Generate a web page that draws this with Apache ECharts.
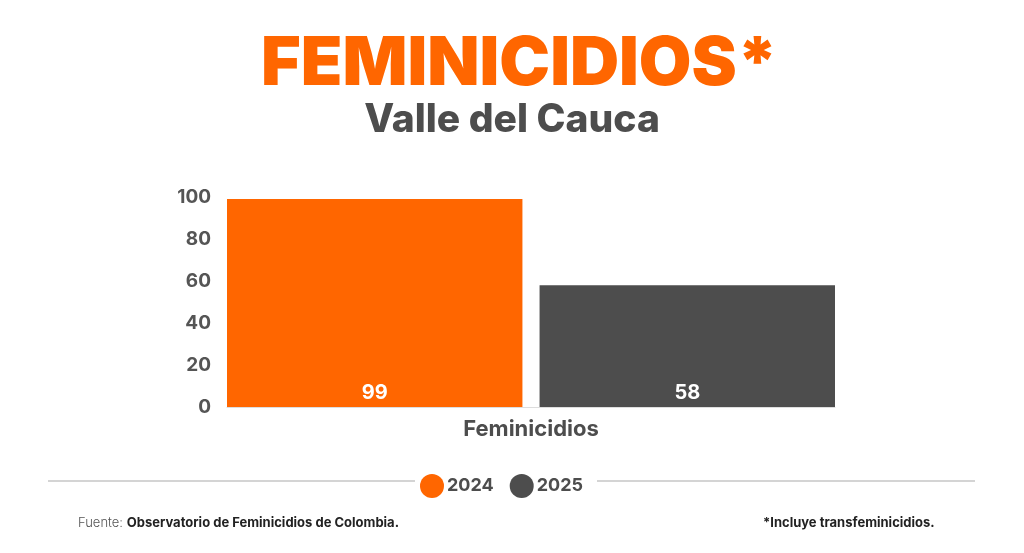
<!DOCTYPE html>
<html><head><meta charset="utf-8">
<script src="https://cdn.jsdelivr.net/npm/echarts@6/dist/echarts.min.js"></script>
<style>html,body{margin:0;padding:0;background:#fff}#c{width:1024px;height:553px}</style>
</head><body><div id="c"></div>
<script>
const categories = ['Feminicidios'];
const seriesNames = ['2024', '2025'];
const values2024 = [99];
const values2025 = [58];
const yTicks = [0, 20, 40, 60, 80, 100];

const FONT = 'Inter, "Open Sans", sans-serif';
const chart = echarts.init(document.getElementById('c'));
chart.setOption({
  backgroundColor: '#ffffff',
  animation: false,
  title: [
    {text: 'FEMINICIDIOS*', left: 256, top: 26,
     textStyle: {color: '#ff6600', fontSize: 68, fontWeight: 900, fontFamily: FONT}},
    {text: 'Valle del Cauca', left: 'center', top: 96,
     textStyle: {color: '#4d4d4d', fontSize: 39, fontWeight: 800, fontFamily: FONT}},
    {text: '{r|Fuente: }{b|Observatorio de Feminicidios de Colombia.}', left: 73, top: 512,
     textStyle: {rich: {r: {fontSize: 13, color: '#555', fontWeight: 300, fontFamily: FONT},
                        b: {fontSize: 13, color: '#222', fontWeight: 700, fontFamily: FONT}}}},
    {text: '*Incluye transfeminicidios.', left: 758, top: 512,
     textStyle: {fontSize: 13, color: '#222', fontWeight: 700, fontFamily: FONT}}
  ],
  legend: {
    data: seriesNames, left: 415, top: 469, icon: 'circle',
    itemWidth: 24, itemHeight: 24, itemGap: 16,
    textStyle: {fontSize: 18, fontWeight: 700, color: '#4d4d4d', fontFamily: FONT, padding: [0, 0, 0, -2]}
  },
  graphic: [
    {type: 'line', shape: {x1: 48, y1: 481, x2: 415, y2: 481}, style: {stroke: '#aaaaaa', lineWidth: 1.2}},
    {type: 'line', shape: {x1: 597, y1: 481, x2: 975, y2: 481}, style: {stroke: '#aaaaaa', lineWidth: 1.2}}
  ],
  grid: {left: 227, right: 189, top: 197, bottom: 146, containLabel: false},
  xAxis: {
    type: 'category', data: categories,
    axisLine: {show: true, lineStyle: {color: '#dddddd'}}, axisTick: {show: false},
    axisLabel: {fontSize: 22, fontWeight: 700, color: '#4d4d4d', fontFamily: FONT, margin: 11}
  },
  yAxis: {
    type: 'value', min: 0, max: 100, interval: 20,
    axisLabel: {fontSize: 19, fontWeight: 700, color: '#555555', fontFamily: FONT, margin: 16,
      formatter: v => yTicks.includes(v) ? String(v) : ''},
    splitLine: {show: false}, axisLine: {show: false}, axisTick: {show: false}
  },
  series: [
    {name: seriesNames[0], type: 'bar', data: values2024, barGap: '5.8%', barCategoryGap: '0%',
     itemStyle: {color: '#ff6600'},
     label: {show: true, position: 'insideBottom', distance: 4, color: '#ffffff', fontSize: 20, fontWeight: 700, fontFamily: FONT}},
    {name: seriesNames[1], type: 'bar', data: values2025, barGap: '5.8%', barCategoryGap: '0%',
     itemStyle: {color: '#4d4d4d'},
     label: {show: true, position: 'insideBottom', distance: 4, color: '#ffffff', fontSize: 20, fontWeight: 700, fontFamily: FONT}}
  ]
});
</script></body></html>
